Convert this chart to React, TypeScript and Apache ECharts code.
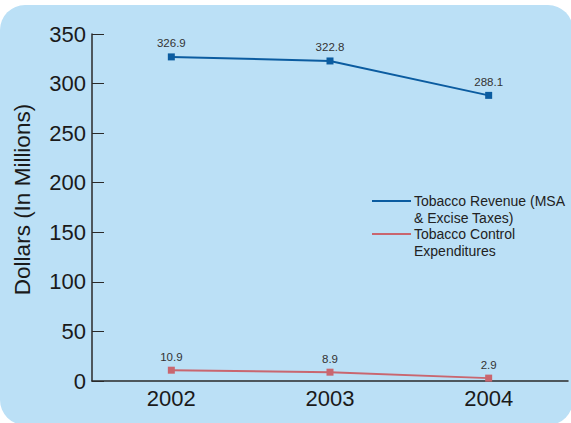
import React, { useEffect, useRef } from "react";
import * as echarts from "echarts";

const years = ["2002", "2003", "2004"];
const revenue = [326.9, 322.8, 288.1];
const control = [10.9, 8.9, 2.9];
const revenueName = "Tobacco Revenue (MSA\n& Excise Taxes)";
const controlName = "Tobacco Control\nExpenditures";
const yTicks = { min: 0, max: 350, interval: 50 };

export default function App() {
  const ref = useRef<HTMLDivElement>(null);
  useEffect(() => {
    if (!ref.current) return;
    const chart = echarts.init(ref.current, null, { renderer: "svg" });
    const font = "Liberation Sans, Arial, sans-serif";
    const blue = "#0b5ca0";
    const red = "#c9666f";
    chart.setOption({
      animation: false,
      backgroundColor: "#ffffff",
      textStyle: { fontFamily: font },
      grid: { left: 92, right: 3, top: 34, bottom: 42, containLabel: false },
      graphic: [
        {
          type: "rect",
          z: -10,
          silent: true,
          shape: { x: 0, y: 5, width: 573, height: 420, r: 25 },
          style: { fill: "#bbe0f6" },
        },
        {
          type: "line",
          shape: { x1: 372, y1: 201, x2: 411, y2: 201 },
          style: { stroke: blue, lineWidth: 2 },
        },
        {
          type: "text",
          x: 414,
          y: 192,
          style: {
            text: revenueName,
            fontSize: 14,
            lineHeight: 17,
            fill: "#222",
            fontFamily: font,
          },
        },
        {
          type: "line",
          shape: { x1: 372, y1: 234, x2: 411, y2: 234 },
          style: { stroke: red, lineWidth: 2 },
        },
        {
          type: "text",
          x: 414,
          y: 225,
          style: {
            text: controlName,
            fontSize: 14,
            lineHeight: 17,
            fill: "#222",
            fontFamily: font,
          },
        },
      ],
      xAxis: {
        type: "category",
        data: years,
        boundaryGap: true,
        axisLine: { lineStyle: { color: "#2a2a2a", width: 1.5 } },
        axisTick: { show: false },
        axisLabel: { fontSize: 22, color: "#1a1a1a", margin: 6, fontFamily: font },
      },
      yAxis: {
        type: "value",
        min: yTicks.min,
        max: yTicks.max,
        interval: yTicks.interval,
        name: "Dollars (In Millions)",
        nameLocation: "middle",
        nameGap: 58,
        nameTextStyle: {
          fontSize: 22.5,
          color: "#1a1a1a",
          fontFamily: font,
          padding: [0, 0, 0, 16],
        },
        axisLine: { show: true, lineStyle: { color: "#2a2a2a", width: 1.5 } },
        axisTick: { show: true, inside: true, length: 12, lineStyle: { color: "#2a2a2a" } },
        splitLine: { show: false },
        axisLabel: { fontSize: 22, color: "#1a1a1a", margin: 6, fontFamily: font },
      },
      series: [
        {
          name: revenueName,
          type: "line",
          data: revenue,
          symbol: "rect",
          symbolSize: 7,
          itemStyle: { color: blue },
          lineStyle: { color: blue, width: 2 },
          label: {
            show: true,
            position: "top",
            distance: 4,
            fontSize: 11.5,
            color: "#333",
            fontFamily: font,
          },
        },
        {
          name: controlName,
          type: "line",
          data: control,
          symbol: "rect",
          symbolSize: 7,
          itemStyle: { color: red },
          lineStyle: { color: red, width: 2 },
          label: {
            show: true,
            position: "top",
            distance: 4,
            fontSize: 11.5,
            color: "#333",
            fontFamily: font,
          },
        },
      ],
    });
    return () => chart.dispose();
  }, []);
  return (
    <div
      ref={ref}
      style={{ position: "fixed", left: 0, top: 0, width: 571, height: 423 }}
    />
  );
}
